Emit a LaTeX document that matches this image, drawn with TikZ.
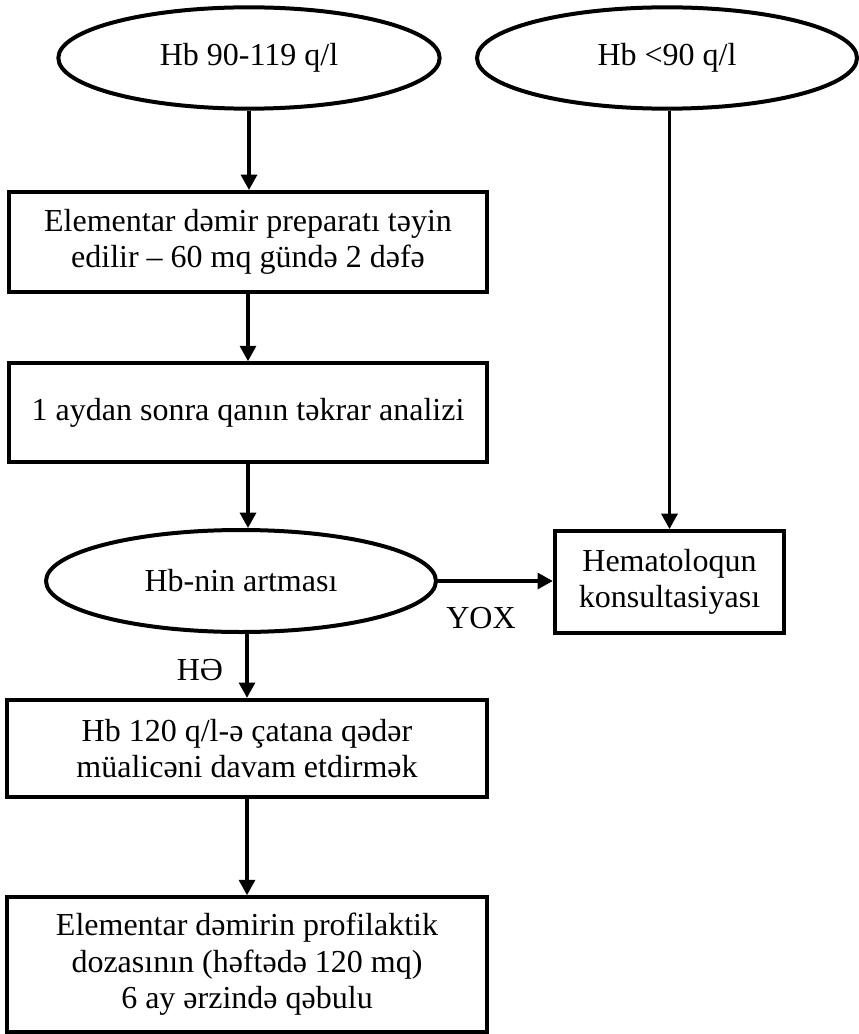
\documentclass[tikz,border=0pt]{standalone}
\usepackage{fontspec}
\setmainfont{Liberation Serif}
\usetikzlibrary{shapes.geometric,arrows.meta}
\begin{document}
\begin{tikzpicture}[x=0.75pt,y=-0.75pt,
    txt/.style={font=\fontsize{24}{27.5}\selectfont},
    oval/.style={txt, draw=black, line width=3pt, ellipse, align=center, inner sep=0pt},
    box/.style={txt, draw=black, line width=3pt, rectangle, align=center, inner sep=0pt},
    arr/.style={black, line width=2.4pt, -{Triangle[width=12pt,length=11.5pt]}}]
    \useasboundingbox (0,0) rectangle (858,1034);

    % start ovals
    \node[oval, minimum width=286pt, minimum height=76pt] (hbmid) at (249,58) {Hb 90-119 q/l};
    \node[oval, minimum width=285pt, minimum height=76pt] (hblow) at (667,58) {Hb <90 q/l};

    % left column
    \node[box, minimum width=358.5pt, minimum height=75pt] (preparat) at (248,242)
        {Elementar dəmir preparatı təyin\\edilir -- 60 mq gündə 2 dəfə};
    \node[box, minimum width=358.5pt, minimum height=74pt] (analiz) at (248,412.5)
        {1 aydan sonra qanın təkrar analizi};
    \node[oval, minimum width=292.5pt, minimum height=76.5pt] (artma) at (241,581) {Hb-nin artması};
    \node[box, minimum width=360pt, minimum height=73pt] (davam) at (247,748.5)
        {Hb 120 q/l-ə çatana qədər\\müalicəni davam etdirmək};
    \node[box, minimum width=360pt, minimum height=101pt] (profilaktika) at (247,964.5)
        {Elementar dəmirin profilaktik\\dozasının (həftədə 120 mq)\\6 ay ərzində qəbulu};

    % right column
    \node[box, minimum width=172pt, minimum height=76.5pt] (hematoloq) at (669.5,582)
        {Hematoloqun\\konsultasiyası};

    % arrows
    \draw[arr] (hbmid.south) -- (hbmid.south |- preparat.north);
    \draw[arr] (preparat.south) -- (analiz.north);
    \draw[arr] (analiz.south) -- (analiz.south |- artma.north);
    \draw[arr] (artma.south -| davam.north) -- (davam.north);
    \draw[arr] (davam.south) -- (profilaktika.north);
    \draw[arr] (artma.east) -- (artma.east -| hematoloq.west);
    \draw[arr] (hblow.south -| hematoloq.north) -- (hematoloq.north);

    % answers
    \node[txt] (yox) at (481,618) {YOX};
    \node[txt] (he) at (200,670) {HƏ};
\end{tikzpicture}
\end{document}
